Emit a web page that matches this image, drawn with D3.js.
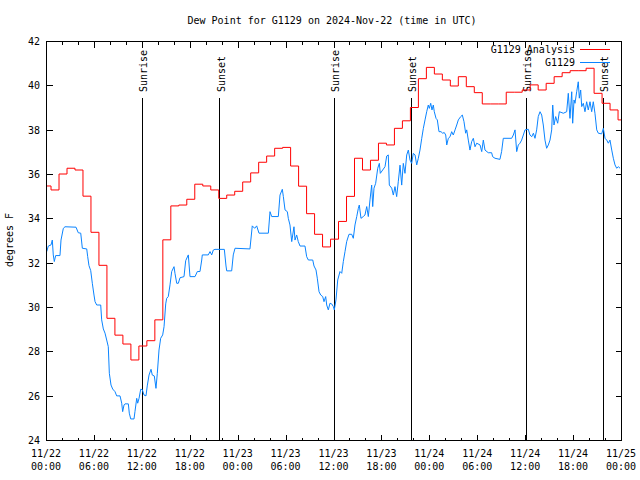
<!DOCTYPE html>
<html>
<head>
<meta charset="utf-8">
<script src="https://cdn.jsdelivr.net/npm/d3@7"></script>
<style>
  body { margin: 0; background: #fff; }
  svg text { font-family: "DejaVu Sans Mono", monospace; font-size: 10px; fill: #000; }
</style>
</head>
<body>
<svg id="chart" width="640" height="480"></svg>
<script>
//start time of the chart (UTC)
const t0 = Date.UTC(2024, 10, 22, 0, 0);
//
//hourly analysis values (valid from 22 min before each hour)
const anaOffset = -0.37;
const anaValues = [35.46,35.28,36.0,36.26,36.18,35.0,33.37,31.88,29.49,28.73,28.33,27.61,
  28.24,28.48,29.42,33.03,34.56,34.6,34.86,35.54,35.46,35.28,34.9,35.05,
  35.22,35.64,36.05,36.53,36.81,37.16,37.2,36.36,35.45,34.21,33.28,32.71,
  33.06,33.86,34.99,36.71,36.18,36.62,37.39,37.31,38.06,38.4,39.0,40.3,
  40.81,40.51,40.24,39.97,40.39,39.94,39.67,39.16,39.16,39.16,39.69,39.69,
  39.79,40.02,39.79,40.09,40.39,40.57,40.66,40.66,40.77,39.64,39.19,38.89,38.44];
//
//station observations: hours since start, degrees F
const obsHours = [0.09,0.29,0.63,0.79,0.91,1.04,1.21,1.75,1.88,2.17,2.38,3.76,4.04,4.35,4.55,5.1,5.22,5.38,5.6,5.8,
  6.01,6.14,6.35,6.85,6.97,7.18,7.39,7.6,7.8,7.93,8.14,8.35,8.64,8.85,9.27,9.48,9.6,9.77,9.89,10.31,
  10.43,10.61,11.02,11.14,11.36,11.48,11.65,11.86,12.06,12.27,12.52,12.68,12.9,13.15,13.31,13.56,13.77,13.94,14.15,14.36,
  14.61,14.78,14.99,15.11,15.31,15.53,15.74,16.03,16.15,16.37,16.57,16.78,17.28,17.49,17.82,18.03,18.66,18.95,19.28,19.5,
  19.57,20.32,20.54,20.75,20.95,21.16,22.33,22.54,22.63,23.25,23.45,23.67,25.54,25.83,26.13,26.38,26.67,27.84,28.05,28.26,
  29.09,29.3,29.59,29.72,29.93,30.22,30.34,30.55,30.77,31.05,31.18,31.39,31.59,31.81,32.43,32.64,32.85,33.4,33.56,33.81,
  33.97,34.19,34.4,34.65,34.81,35.02,35.15,35.35,35.56,35.77,35.98,36.1,36.31,36.53,36.81,37.03,37.23,37.44,37.65,37.94,
  38.28,38.48,38.69,38.91,39.11,39.23,39.44,39.73,39.94,40.16,40.36,40.57,40.78,40.91,41.07,41.28,41.54,41.74,41.86,42.16,
  42.45,42.66,42.86,42.99,43.29,43.49,43.7,43.91,44.11,44.33,44.54,44.74,44.95,45.17,45.37,45.58,45.79,45.99,46.21,46.42,
  46.62,46.83,47.05,47.25,47.46,47.67,47.87,48.0,48.17,48.33,48.5,48.62,48.84,49.0,49.21,49.46,49.67,49.87,50.05,50.18,
  50.38,50.59,50.8,51.0,51.22,51.43,51.63,51.93,52.13,52.34,52.55,52.68,52.88,53.09,53.3,53.51,53.72,53.93,54.35,54.56,
  54.76,54.97,55.38,55.8,55.93,56.22,56.84,57.05,57.26,58.31,58.52,58.73,58.94,59.14,59.35,59.56,59.77,59.98,60.39,60.6,
  60.82,61.03,61.23,61.44,61.64,61.86,62.07,62.27,62.48,62.69,62.9,63.11,63.32,63.45,63.61,63.82,64.07,64.28,64.78,65.2,
  65.4,65.61,65.83,65.95,66.12,66.24,66.45,66.65,66.78,66.95,67.08,67.28,67.49,67.7,67.9,68.12,68.33,68.53,68.74,68.96,
  69.16,69.58,69.79,70.0,70.21,70.41,70.62,70.84,71.04,71.25,71.46,71.66,71.88];
const obsValues = [32.5,32.75,32.8,33.02,32.35,32.05,32.32,32.32,33.02,33.55,33.62,33.6,33.35,33.33,32.65,32.62,32.27,31.87,31.64,31.07,
  30.54,30.24,30.09,30.09,29.42,29.01,28.82,28.51,28.21,27.01,26.48,26.3,26.18,25.99,25.99,25.66,25.28,25.58,25.63,25.63,
  25.21,24.95,24.95,25.28,25.88,25.66,25.88,26.29,26.27,26.03,25.99,26.44,26.93,27.19,26.93,26.89,26.33,27.01,28.06,28.59,
  28.74,29.11,30.14,30.39,30.47,31.0,31.6,31.82,31.52,31.07,31.07,31.32,31.37,32.09,32.35,31.37,31.37,31.6,31.6,32.12,
  32.35,32.35,32.5,32.35,32.57,32.6,32.6,31.85,31.63,31.63,32.35,32.65,32.62,33.66,33.55,33.66,33.33,33.33,34.3,34.08,
  34.08,35.05,35.31,34.98,34.38,34.3,34.0,33.7,32.95,33.62,33.02,33.25,32.95,32.75,32.75,32.27,32.12,32.12,31.85,31.67,
  31.3,30.69,30.54,30.47,30.24,30.47,30.09,29.87,30.17,30.14,30.02,29.87,30.32,31.22,31.6,31.52,32.05,32.5,32.95,33.28,
  33.28,33.1,33.7,34.08,34.45,34.6,34.0,34.08,34.15,34.53,34.08,34.83,35.5,34.53,35.36,35.58,36.26,36.48,36.03,36.18,
  36.33,36.81,36.86,35.5,35.36,35.05,35.43,34.98,35.65,36.4,35.5,36.48,36.03,36.86,37.08,36.63,36.48,36.93,36.86,36.41,
  36.71,37.08,37.61,38.06,38.44,38.81,39.11,38.96,39.19,38.89,39.11,38.81,38.51,38.44,37.91,37.91,37.84,37.87,37.76,37.31,
  37.61,37.68,37.91,37.76,37.99,38.21,38.44,38.59,38.66,38.36,37.84,37.99,37.53,37.08,37.46,37.61,37.23,37.39,37.31,37.01,
  37.53,37.08,36.96,36.96,36.78,36.71,36.66,37.01,37.61,37.61,37.76,37.99,37.01,37.31,37.39,37.53,37.76,37.99,38.02,37.76,
  37.68,37.84,37.61,37.99,38.59,38.81,38.66,38.21,37.53,37.16,37.31,37.53,37.99,39.11,38.21,38.59,38.29,38.81,38.74,38.81,
  39.64,38.51,39.71,38.29,39.34,39.19,39.71,40.16,39.42,39.79,39.04,39.19,38.81,39.26,38.89,39.26,38.81,39.26,38.74,37.99,
  37.84,37.81,38.06,37.61,37.53,37.39,37.53,37.08,36.71,36.41,36.26,36.33,36.26];
//
//sunrise / sunset markers (hours since start)
const sunHours = [12.02, 21.72, 36.06, 45.7, 60.1, 69.7];
const sunLabels = ["Sunrise", "Sunset", "Sunrise", "Sunset", "Sunrise", "Sunset"];
//
//y axis ticks
const yTicks = [24, 26, 28, 30, 32, 34, 36, 38, 40, 42];

const hr = (h) => new Date(t0 + h * 3600000);

//plot box
var box = {left: 46, right: 621, top: 41, bottom: 440};
var svg = d3.select("#chart");

var x = d3.scaleUtc()
    .domain([hr(0), hr(72)])
    .range([box.left, box.right]);
var y = d3.scaleLinear()
    .domain([24, 42])
    .range([box.bottom, box.top]);

//clip to the plot box
svg.append("clipPath").attr("id", "clip")
  .append("rect")
  .attr("x", box.left).attr("y", box.top)
  .attr("width", box.right - box.left).attr("height", box.bottom - box.top);

//
//ticks on all four sides
var major = d3.utcHour.every(6).range(hr(0), hr(72.01));
var minor = d3.utcHour.every(2).range(hr(0), hr(72.01)).filter((d) => d.getUTCHours() % 6 != 0);

function ticks(axis, vals, size, tr) {
  var g = svg.append("g")
    .attr("transform", tr)
    .call(axis.tickValues(vals).tickSize(size).tickFormat(""));
  g.select(".domain").remove();
  g.selectAll("line").attr("stroke", "#000").attr("shape-rendering", "crispEdges");
}
ticks(d3.axisBottom(x), major, -6, "translate(0," + (box.bottom + 0.5) + ")");
ticks(d3.axisBottom(x), minor, -3, "translate(0," + (box.bottom + 0.5) + ")");
ticks(d3.axisTop(x), major, -6, "translate(0," + (box.top + 0.5) + ")");
ticks(d3.axisTop(x), minor, -3, "translate(0," + (box.top + 0.5) + ")");
ticks(d3.axisLeft(y), yTicks, -6, "translate(" + (box.left + 0.5) + ",0)");
ticks(d3.axisRight(y), yTicks, -6, "translate(" + (box.right + 0.5) + ",0)");

//
//x tick labels, two lines
var fmtDay = d3.utcFormat("%m/%d"), fmtTime = d3.utcFormat("%H:%M");
var xl = svg.append("g").selectAll("text").data(major).enter()
  .append("text")
  .attr("text-anchor", "middle");
xl.append("tspan").attr("x", (d) => x(d)).attr("y", 457).text(fmtDay);
xl.append("tspan").attr("x", (d) => x(d)).attr("y", 470).text(fmtTime);

//y tick labels
svg.append("g").selectAll("text").data(yTicks).enter()
  .append("text")
  .attr("x", 40)
  .attr("y", (d) => y(d) + 4)
  .attr("text-anchor", "end")
  .text((d) => d);

//
//sunrise and sunset lines
var sun = svg.append("g").selectAll("g").data(sunHours).enter().append("g");
sun.append("line")
  .attr("x1", (d) => Math.round(x(hr(d))) + 0.5)
  .attr("x2", (d) => Math.round(x(hr(d))) + 0.5)
  .attr("y1", 98).attr("y2", box.bottom)
  .attr("stroke", "#000");
sun.append("text")
  .attr("transform", (d) => "translate(" + (x(hr(d)) + 2) + ",92) rotate(-90)")
  .attr("dominant-baseline", "central")
  .text((d, i) => sunLabels[i]);

//
//analysis line (red)
var ana = anaValues.map((v, i) => ({t: hr(i + anaOffset), v: v}));
ana.push({t: hr(anaValues.length + anaOffset), v: anaValues[anaValues.length - 1]});
svg.append("path")
  .datum(ana)
  .attr("clip-path", "url(#clip)")
  .style("fill", "none")
  .style("stroke", "#ff0000")
  .style("stroke-width", 1)
  .attr("d", d3.line().curve(d3.curveStepAfter)
    .x((d) => x(d.t))
    .y((d) => y(d.v)));

//station line (blue)
var obs = obsHours.map((h, i) => ({t: hr(h), v: obsValues[i]}));
svg.append("path")
  .datum(obs)
  .attr("clip-path", "url(#clip)")
  .style("fill", "none")
  .style("stroke", "#0a84ff")
  .style("stroke-width", 1)
  .attr("d", d3.line()
    .x((d) => x(d.t))
    .y((d) => y(d.v)));

//
//frame
svg.append("rect")
  .attr("x", box.left + 0.5).attr("y", box.top + 0.5)
  .attr("width", box.right - box.left).attr("height", box.bottom - box.top)
  .attr("fill", "none").attr("stroke", "#000");

//
//legend
var legend = [["G1129 Analysis", "#ff0000"], ["G1129", "#0a84ff"]];
legend.forEach((l, i) => {
  var ly = 49 + i * 13;
  svg.append("text").attr("x", 575).attr("y", ly + 4).attr("text-anchor", "end").text(l[0]);
  svg.append("line").attr("x1", 580).attr("x2", 610).attr("y1", ly + 0.5).attr("y2", ly + 0.5)
    .attr("stroke", l[1]).attr("stroke-width", 1);
});

//
//title and y label
svg.append("text")
  .attr("x", 332).attr("y", 24)
  .attr("text-anchor", "middle")
  .text("Dew Point for G1129 on 2024-Nov-22 (time in UTC)");
svg.append("text")
  .attr("transform", "translate(13,240) rotate(-90)")
  .attr("text-anchor", "middle")
  .text("degrees F");
</script>
</body>
</html>
